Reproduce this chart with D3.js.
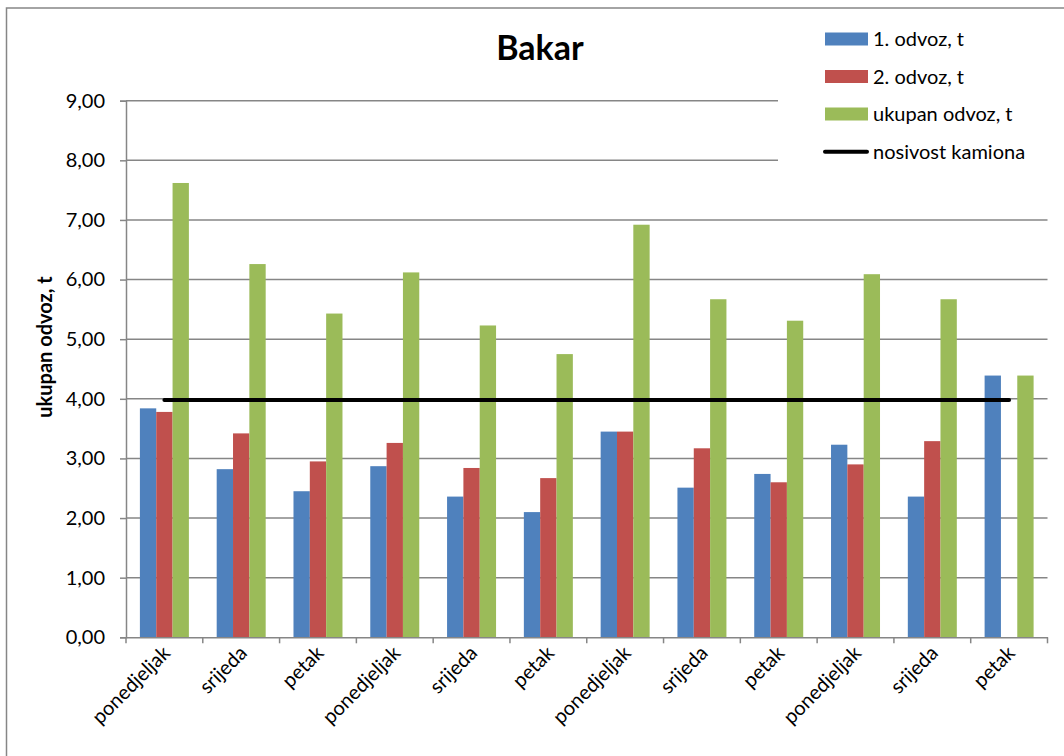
<!DOCTYPE html>
<html>
<head>
<meta charset="utf-8">
<script src="https://cdn.jsdelivr.net/npm/d3@7"></script>
<style>
  body { margin: 0; background: #fff; }
  text { font-family: Lato, "Open Sans", sans-serif; fill: #000; }
</style>
</head>
<body>
<div id="chart"></div>
<script>
const days = ["ponedjeljak", "srijeda", "petak", "ponedjeljak", "srijeda", "petak",
              "ponedjeljak", "srijeda", "petak", "ponedjeljak", "srijeda", "petak"];
const odvoz1 = [3.84, 2.82, 2.45, 2.87, 2.36, 2.10, 3.45, 2.51, 2.74, 3.23, 2.36, 4.39];
const odvoz2 = [3.78, 3.42, 2.95, 3.26, 2.84, 2.67, 3.45, 3.17, 2.60, 2.90, 3.29, 0];
const ukupno = [7.62, 6.26, 5.43, 6.12, 5.23, 4.75, 6.92, 5.67, 5.31, 6.09, 5.67, 4.39];
const nosivost = [3.98, 3.98, 3.98, 3.98, 3.98, 3.98, 3.98, 3.98, 3.98, 3.98, 3.98, 3.98];
const seriesNames = ["1. odvoz, t", "2. odvoz, t", "ukupan odvoz, t"];
const lineName = "nosivost kamiona";
const yTicks = [0, 1, 2, 3, 4, 5, 6, 7, 8, 9];
const colors = ["#4F81BD", "#C0504D", "#9BBB59"];

const svgWidth = 1064;
const svgHeight = 756;

const plot = { left: 126, right: 1047.5, top: 100.7, bottom: 637.3 };

const svg = d3.select("#chart")
    .append("svg")
    .attr("width", svgWidth)
    .attr("height", svgHeight);

// outer chart border (runs off right/bottom edges)
svg.append("rect")
    .attr("x", 6.5).attr("y", 8)
    .attr("width", 1100).attr("height", 800)
    .attr("fill", "#fff")
    .attr("stroke", "#868686")
    .attr("stroke-width", 1.5);

const xScale = d3.scaleBand()
    .domain(d3.range(days.length))
    .range([plot.left, plot.right])
    .paddingInner(0);

const bw = xScale.bandwidth();
const xInner = d3.scaleBand()
    .domain(d3.range(3))
    .range([bw * 0.181, bw * 0.819]);

const yScale = d3.scaleLinear()
    .domain([0, 9])
    .range([plot.bottom, plot.top]);

const fmt = d => d3.format(".2f")(d).replace(".", ",");

// gridlines
svg.append("g")
    .selectAll("line")
    .data(yTicks.slice(1))
    .enter()
    .append("line")
    .attr("x1", plot.left).attr("x2", plot.right)
    .attr("y1", d => yScale(d)).attr("y2", d => yScale(d))
    .attr("stroke", "#868686")
    .attr("stroke-width", 1.5);

// y axis
const leftAxis = d3.axisLeft(yScale)
    .tickValues(yTicks)
    .tickSize(6)
    .tickPadding(15)
    .tickFormat(fmt);

const yAxis = svg.append("g")
    .attr("transform", `translate(${plot.left}, 0)`)
    .call(leftAxis);
yAxis.select(".domain").attr("stroke", "#868686").attr("stroke-width", 1.5);
yAxis.selectAll(".tick line").attr("stroke", "#868686").attr("stroke-width", 1.5);
yAxis.selectAll("text").attr("font-size", "20px").style("font-family", "Lato, sans-serif");

// bars
const table = days.map((d, i) => ({ i: i, vals: [odvoz1[i], odvoz2[i], ukupno[i]] }));

const groups = svg.append("g")
    .selectAll("g")
    .data(table)
    .enter()
    .append("g")
    .attr("transform", d => `translate(${xScale(d.i)}, 0)`);

groups.selectAll("rect")
    .data(d => d.vals.map((v, k) => ({ k: k, v: v })))
    .enter()
    .append("rect")
    .attr("x", d => xInner(d.k))
    .attr("width", xInner.bandwidth())
    .attr("y", d => yScale(d.v))
    .attr("height", d => yScale(0) - yScale(d.v))
    .attr("fill", d => colors[d.k]);

// x axis
const bottomAxis = d3.axisBottom(xScale)
    .tickSize(0)
    .tickFormat("");

const xAxis = svg.append("g")
    .attr("transform", `translate(0, ${plot.bottom})`)
    .call(bottomAxis);
xAxis.select(".domain").attr("stroke", "#868686").attr("stroke-width", 1.5);

// category boundary ticks
svg.append("g")
    .selectAll("line")
    .data(d3.range(days.length + 1))
    .enter()
    .append("line")
    .attr("x1", d => plot.left + d * bw).attr("x2", d => plot.left + d * bw)
    .attr("y1", plot.bottom).attr("y2", plot.bottom + 6)
    .attr("stroke", "#868686")
    .attr("stroke-width", 1.5);

// category labels
svg.append("g")
    .selectAll("text")
    .data(days)
    .enter()
    .append("text")
    .attr("transform", (d, i) => `translate(${xScale(i) + bw / 2 + 7}, ${plot.bottom + 17}) rotate(-45)`)
    .attr("text-anchor", "end")
    .attr("font-size", "20px")
    .text(d => d);

// truck capacity line
const line = d3.line()
    .x((d, i) => xScale(i) + bw / 2)
    .y(d => yScale(d));

svg.append("path")
    .datum(nosivost)
    .attr("d", line)
    .attr("fill", "none")
    .attr("stroke", "#000")
    .attr("stroke-width", 4)
    .attr("stroke-linecap", "round");

// title
svg.append("text")
    .attr("x", 540)
    .attr("y", 60)
    .attr("text-anchor", "middle")
    .attr("font-size", "34px")
    .attr("font-weight", "bold")
    .text("Bakar");

// y axis title
svg.append("text")
    .attr("transform", `translate(52, 347) rotate(-90)`)
    .attr("text-anchor", "middle")
    .attr("font-size", "20px")
    .attr("font-weight", "bold")
    .text("ukupan odvoz, t");

// legend
const legend = svg.append("g");
legend.append("rect")
    .attr("x", 778).attr("y", 16)
    .attr("width", 280).attr("height", 180)
    .attr("fill", "#fff");

const rowY = [39, 76.5, 114, 151.7];
seriesNames.forEach((name, k) => {
    legend.append("rect")
        .attr("x", 825).attr("y", rowY[k] - 6.5)
        .attr("width", 43).attr("height", 13)
        .attr("fill", colors[k]);
    legend.append("text")
        .attr("x", 873).attr("y", rowY[k] + 7)
        .attr("font-size", "20px")
        .text(name);
});
legend.append("line")
    .attr("x1", 825).attr("x2", 867)
    .attr("y1", rowY[3]).attr("y2", rowY[3])
    .attr("stroke", "#000")
    .attr("stroke-width", 4)
    .attr("stroke-linecap", "round");
legend.append("text")
    .attr("x", 873).attr("y", rowY[3] + 7)
    .attr("font-size", "20px")
    .text(lineName);
</script>
</body>
</html>
